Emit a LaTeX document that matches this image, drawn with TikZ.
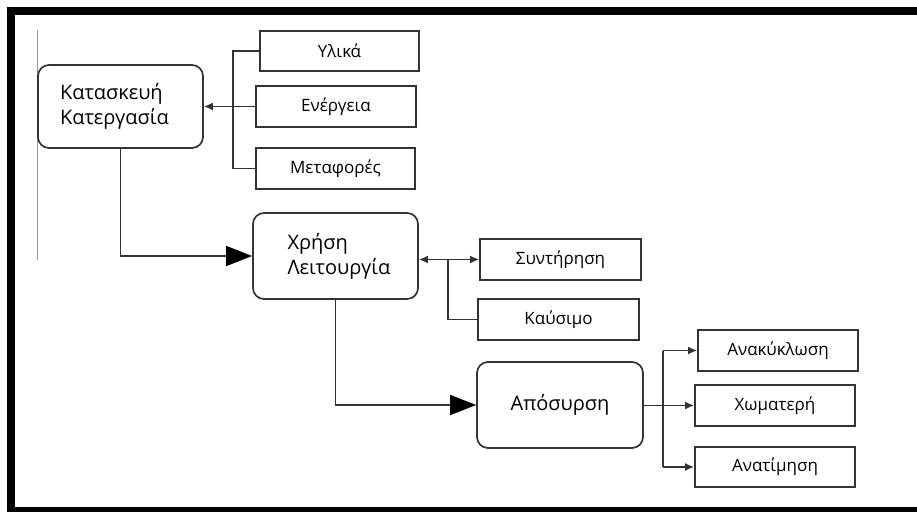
\documentclass[tikz,border=0pt]{standalone}
\usepackage{fontspec}
\setmainfont{Open Sans}
\usetikzlibrary{arrows.meta}
\definecolor{ln}{HTML}{333333}
\tikzset{
  mainbox/.style={draw=ln, line width=1.7pt, rounded corners=11pt, minimum width=#1, minimum height=86pt, font=\fontsize{20}{25}\selectfont},
  smallbox/.style={draw=ln, line width=1.7pt, minimum width=160pt, minimum height=41pt, font=\fontsize{17}{20}\selectfont},
  conn/.style={draw=ln, line width=1.6pt},
  sarr/.style={conn, -{Latex[length=9pt,width=8pt]}},
  barr/.style={conn, -{Triangle[length=26pt,width=20pt,fill=black,color=black]}},
}
\begin{document}
\begin{tikzpicture}[x=1pt,y=-1pt]
\useasboundingbox (0,0) rectangle (917,512);
% frame
\fill[black] (7,7) rectangle (917,15);
\fill[black] (7,7) rectangle (15,512);
\fill[black] (7,507) rectangle (917,512);
% gray vertical line
\coordinate (g1) at (37,30);
\coordinate (g2) at (37,260);
\draw[gray!80, line width=1pt] (g1) -- (g2);

% main boxes
\node[mainbox=165pt, minimum height=83pt, text width=121pt, inner xsep=0pt, align=left] (kat) at (120.5,106.5) {Κατασκευή\\Κατεργασία};
\node[mainbox=165pt, minimum height=86pt] (xrisi) at (335.5,256) {};
\node[font=\fontsize{20}{25}\selectfont, align=left, anchor=west] (xrisitxt) at (284,256) {Χρήση\\Λειτουργία};
\node[mainbox=166pt, minimum height=86pt] (apos) at (560,405) {Απόσυρση};

% small boxes
\node[smallbox, minimum width=159pt, minimum height=40pt] (yl) at (339.5,51) {Υλικά};
\node[smallbox] (en) at (336,106.5) {Ενέργεια};
\node[smallbox, minimum width=159pt] (met) at (335.5,168.5) {Μεταφορές};
\node[smallbox, minimum width=161pt] (syn) at (560.5,259.5) {Συντήρηση};
\node[smallbox, minimum width=161pt] (kaf) at (558.5,319.5) {Καύσιμο};
\node[smallbox] (ana) at (778,350.5) {Ανακύκλωση};
\node[smallbox] (xom) at (775,405.5) {Χωματερή};
\node[smallbox, minimum height=40pt] (anat) at (775,467) {Ανατίμηση};

% connectors: top group
\coordinate (b1) at (233,51);
\draw[conn] (yl.west) -- (b1) |- (met.west);
\draw[sarr] (en.west) -- (kat.east |- en.west);

% kat -> xrisi
\draw[barr] (kat.south) |- (xrisi.west);

% xrisi group
\coordinate (b2) at (448,259.5);
\draw[conn, {Latex[length=9pt,width=8pt]}-{Latex[length=9pt,width=8pt]}] (xrisi.east |- syn.west) -- (syn.west);
\draw[conn] (kaf.west) -| (b2);

% xrisi -> apos
\draw[barr] (xrisi.south) |- (apos.west);

% apos group
\coordinate (b3) at (663,405.5);
\draw[sarr] (apos.east |- xom.west) -- (xom.west);
\draw[conn] (b3 |- ana.west) -- (b3 |- anat.west);
\draw[sarr] (b3 |- ana.west) -- (ana.west);
\draw[sarr] (b3 |- anat.west) -- (anat.west);
\end{tikzpicture}
\end{document}
